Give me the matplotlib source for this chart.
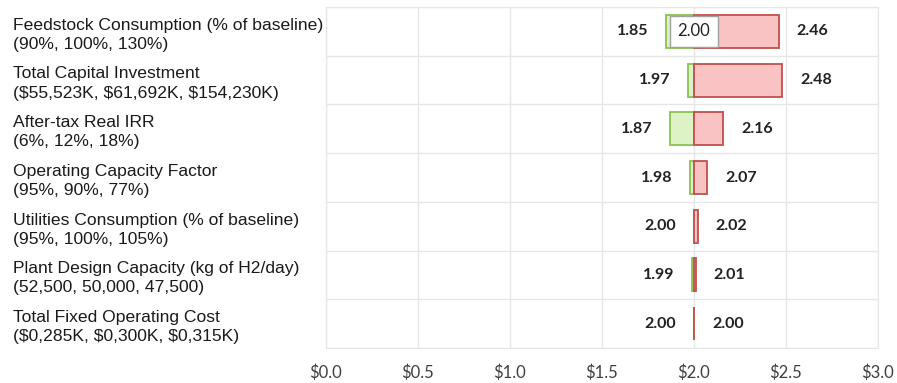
import matplotlib
matplotlib.use("Agg")
from matplotlib import pyplot as plt

labels = ["Feedstock Consumption (% of baseline)\n(90%, 100%, 130%)",
          "Total Capital Investment\n($55,523K, $61,692K, $154,230K)",
          "After-tax Real IRR\n(6%, 12%, 18%)",
          "Operating Capacity Factor\n(95%, 90%, 77%)",
          "Utilities Consumption (% of baseline)\n(95%, 100%, 105%)",
          "Plant Design Capacity (kg of H2/day)\n(52,500, 50,000, 47,500)",
          "Total Fixed Operating Cost\n($0,285K, $0,300K, $0,315K)"]
low = [1.85, 1.97, 1.87, 1.98, 2.00, 1.99, 2.00]
high = [2.46, 2.48, 2.16, 2.07, 2.02, 2.01, 2.00]
base = 2.00
xticks = [0.0, 0.5, 1.0, 1.5, 2.0, 2.5, 3.0]

fig = plt.figure(figsize=(8.97, 3.83), dpi=100)
ax = fig.add_axes([0.3634, 0.0914, 0.6154, 0.8903])

n = len(labels)
ypos = list(range(n))
for i in range(n):
    ax.barh(ypos[i], low[i] - base, left=base, height=0.68, color='#ddf3c6', edgecolor='#8cc152', lw=1.3, zorder=3)
    ax.barh(ypos[i], high[i] - base, left=base, height=0.68, color='#f9c3c3', edgecolor='#c0504d', lw=1.3, zorder=3)
    ax.annotate("%.2f" % low[i], (low[i], ypos[i]), xytext=(-13, 0), textcoords='offset points',
                ha='right', va='center', fontsize=11.5, fontweight='bold', family='Lato', color='#222222')
    ax.annotate("%.2f" % high[i], (high[i], ypos[i]), xytext=(13, 0), textcoords='offset points',
                ha='left', va='center', fontsize=11.5, fontweight='bold', family='Lato', color='#222222')
    ax.text(-0.567, ypos[i] + 0.07, labels[i], transform=ax.get_yaxis_transform(), ha='left', va='center',
            fontsize=12.6, family='Liberation Sans', color='#1a1a1a', linespacing=1.35)

# base value box
ax.text(base, 0, "%.2f" % base, ha='center', va='center', fontsize=12, family='Lato', color='#222222', zorder=4,
        bbox=dict(boxstyle='square,pad=0.45', fc='white', ec='#a0a0a0', lw=1))

ax.set_xlim(0, 3)
ax.set_ylim(n - 0.5, -0.5)
ax.set_xticks(xticks)
ax.set_xticklabels(["$%.1f" % t for t in xticks], family='Lato', fontsize=12, color='#404040')
ax.set_yticks([i - 0.5 for i in range(n + 1)])
ax.set_yticklabels([])
ax.tick_params(length=0, pad=12)
ax.grid(True, color='#e6e6e6', lw=1, zorder=0)
for s in ax.spines.values():
    s.set_color('#e6e6e6')

plt.savefig("out.png", dpi=100)
